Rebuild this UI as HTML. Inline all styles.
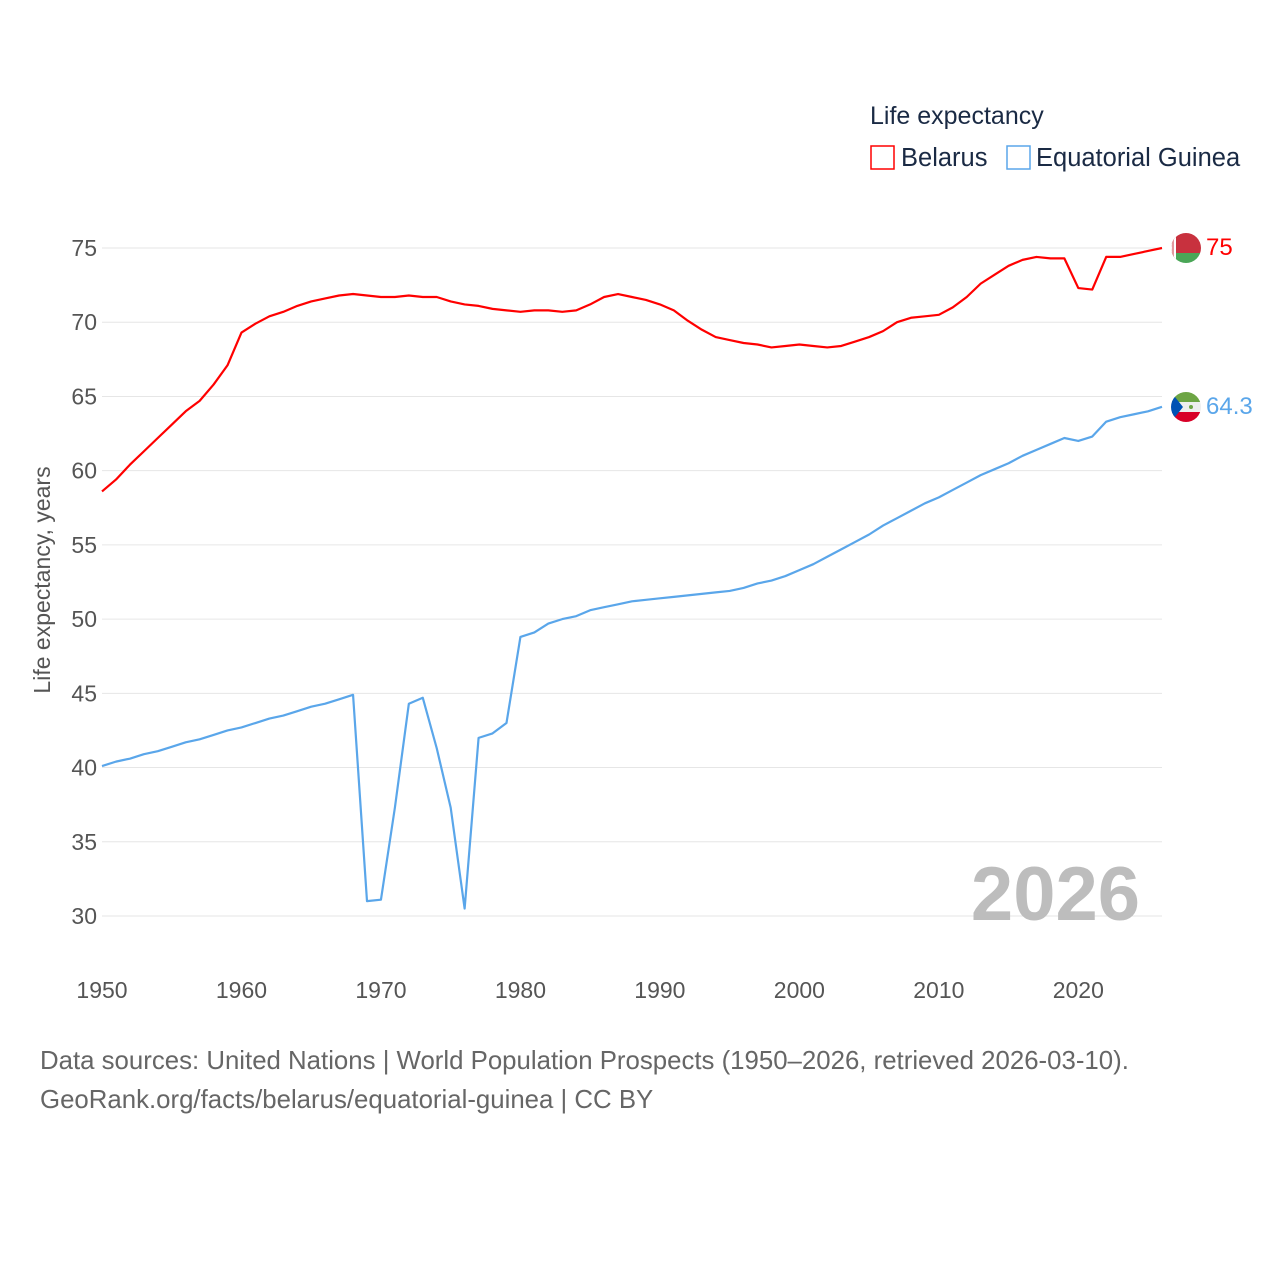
<!DOCTYPE html>
<html><head><meta charset="utf-8"><style>
body{margin:0;background:#fff;font-family:"Liberation Sans",sans-serif}
svg text{font-family:"Liberation Sans",sans-serif}
</style></head><body>
<svg id="chart" width="1280" height="1280" viewBox="0 0 1280 1280">
<defs>
<clipPath id="c1"><circle cx="1186" cy="248" r="15"/></clipPath>
<clipPath id="c2"><circle cx="1186" cy="407" r="15"/></clipPath>
</defs>
<g id="grid"></g><g id="yt"></g><g id="xt"></g>
<text x="1140" y="920" text-anchor="end" font-size="76" font-weight="bold" fill="#bdbdbd">2026</text>
<g id="lines"></g>
<text transform="translate(50,580) rotate(-90)" text-anchor="middle" font-size="23" fill="#555">Life expectancy, years</text>
<text x="870" y="124" font-size="25" fill="#1a2a44">Life expectancy</text>
<rect x="871" y="146" width="23" height="23" fill="none" stroke="#ff0000" stroke-width="1.5"/>
<text x="901" y="166" font-size="25.5" fill="#1a2a44">Belarus</text>
<rect x="1007" y="146" width="23" height="23" fill="none" stroke="#5aa6ea" stroke-width="1.5"/>
<text x="1036" y="166" font-size="25.5" fill="#1a2a44">Equatorial Guinea</text>
<g clip-path="url(#c1)"><rect x="1171" y="233" width="30" height="20" fill="#c8313e"/><rect x="1171" y="253" width="30" height="10" fill="#4aa657"/><rect x="1171" y="233" width="5" height="30" fill="#fff"/><rect x="1172" y="236" width="2" height="24" fill="#c8313e" opacity="0.5"/></g>
<g clip-path="url(#c2)"><rect x="1171" y="392" width="30" height="10" fill="#6da544"/><rect x="1171" y="402" width="30" height="10" fill="#eee"/><rect x="1171" y="412" width="30" height="10" fill="#d80027"/><polygon points="1171,392 1183,407 1171,422" fill="#0052b4"/><circle cx="1191" cy="407" r="2" fill="#6da544"/></g>
<text id="lb1" x="1206" y="255" font-size="24" fill="#ff0000">75</text>
<text id="lb2" x="1206" y="414" font-size="24" fill="#5aa6ea">64.3</text>
<text x="40" y="1069" font-size="25.8" fill="#666">Data sources: United Nations | World Population Prospects (1950–2026, retrieved 2026-03-10).</text>
<text x="40" y="1108" font-size="25.8" fill="#666">GeoRank.org/facts/belarus/equatorial-guinea | CC BY</text>
</svg>
<script>
const startYear = 1950;
const belarus = [58.6,59.4,60.4,61.3,62.2,63.1,64.0,64.7,65.8,67.1,
69.3,69.9,70.4,70.7,71.1,71.4,71.6,71.8,71.9,71.8,
71.7,71.7,71.8,71.7,71.7,71.4,71.2,71.1,70.9,70.8,
70.7,70.8,70.8,70.7,70.8,71.2,71.7,71.9,71.7,71.5,
71.2,70.8,70.1,69.5,69.0,68.8,68.6,68.5,68.3,68.4,
68.5,68.4,68.3,68.4,68.7,69.0,69.4,70.0,70.3,70.4,
70.5,71.0,71.7,72.6,73.2,73.8,74.2,74.4,74.3,74.3,
72.3,72.2,74.4,74.4,74.6,74.8,75.0];
const eqGuinea = [40.1,40.4,40.6,40.9,41.1,41.4,41.7,41.9,42.2,42.5,
42.7,43.0,43.3,43.5,43.8,44.1,44.3,44.6,44.9,31.0,
31.1,37.3,44.3,44.7,41.3,37.3,30.5,42.0,42.3,43.0,
48.8,49.1,49.7,50.0,50.2,50.6,50.8,51.0,51.2,51.3,
51.4,51.5,51.6,51.7,51.8,51.9,52.1,52.4,52.6,52.9,
53.3,53.7,54.2,54.7,55.2,55.7,56.3,56.8,57.3,57.8,
58.2,58.7,59.2,59.7,60.1,60.5,61.0,61.4,61.8,62.2,
62.0,62.3,63.3,63.6,63.8,64.0,64.3];
const yTicks = [30,35,40,45,50,55,60,65,70,75];
const xTicks = [1950,1960,1970,1980,1990,2000,2010,2020];
const NS='http://www.w3.org/2000/svg';
function xs(yr){return 102+(yr-1950)*(1162-102)/76;}
function ys(v){return 916-(v-30)*(916-248)/45;}
const grid=document.getElementById('grid'),yt=document.getElementById('yt'),xt=document.getElementById('xt'),lines=document.getElementById('lines');
yTicks.forEach(t=>{
 const l=document.createElementNS(NS,'line');
 
 
 l.setAttribute('x1',102);l.setAttribute('x2',1162);l.setAttribute('y1',ys(t));l.setAttribute('y2',ys(t));
 l.setAttribute('stroke','#e6e6e6');l.setAttribute('stroke-width','1');grid.appendChild(l);
 const tx=document.createElementNS(NS,'text');
 
 
 tx.setAttribute('x',97);tx.setAttribute('y',ys(t)+8);tx.setAttribute('text-anchor','end');tx.setAttribute('font-size','23');tx.setAttribute('fill','#555');
 tx.textContent=t;yt.appendChild(tx);
});
xTicks.forEach(t=>{
 const tx=document.createElementNS(NS,'text');
 
 
 tx.setAttribute('x',xs(t));tx.setAttribute('y',998);tx.setAttribute('text-anchor','middle');tx.setAttribute('font-size','23');tx.setAttribute('fill','#555');
 tx.textContent=t;xt.appendChild(tx);
});
function drawLine(arr,color,name){
 const p=document.createElementNS(NS,'polyline');
 
 
 p.setAttribute('points',arr.map((v,i)=>xs(startYear+i)+','+ys(v)).join(' '));
 p.setAttribute('fill','none');p.setAttribute('stroke',color);p.setAttribute('stroke-width','2.2');p.setAttribute('stroke-linejoin','round');
 lines.appendChild(p);
}
drawLine(eqGuinea,'#5aa6ea','line-equatorial-guinea');
drawLine(belarus,'#ff0000','line-belarus');
document.getElementById('lb1').textContent=belarus[belarus.length-1];
document.getElementById('lb2').textContent=eqGuinea[eqGuinea.length-1];
</script>
</body></html>
